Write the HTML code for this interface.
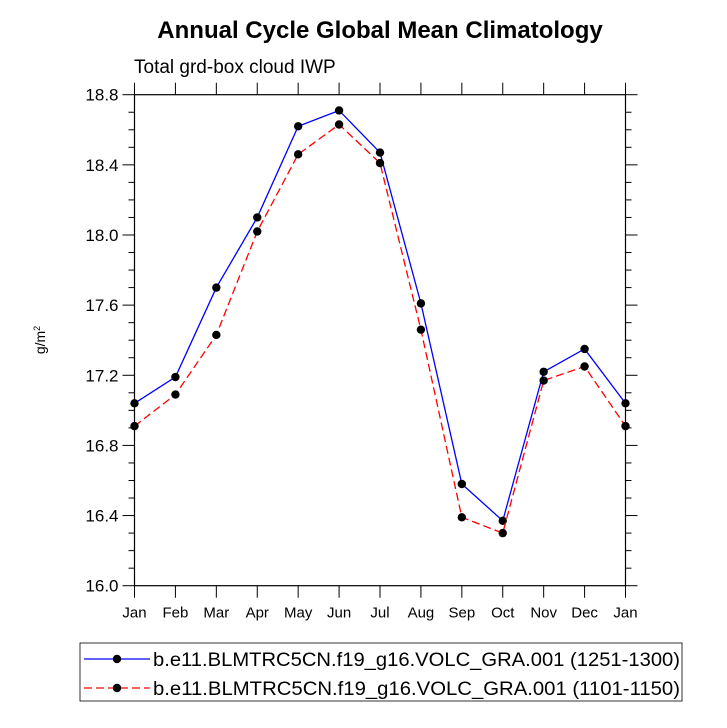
<!DOCTYPE html>
<html><head><meta charset="utf-8"><style>body{margin:0;background:#fff}svg{display:block;font-family:"Liberation Sans",sans-serif}</style></head>
<body>
<svg id="chart" width="727" height="728" xmlns="http://www.w3.org/2000/svg">
<text x="380" y="38" text-anchor="middle" font-size="24" font-weight="bold">Annual Cycle Global Mean Climatology</text>
<text x="134" y="73" font-size="19">Total grd-box cloud IWP</text>
<text transform="translate(45,340) rotate(-90)" text-anchor="middle" font-size="14">g/m<tspan font-size="9" dy="-5">2</tspan></text>
<g id="axes"></g>
<g id="series"></g>
<g>
<rect x="80" y="643" width="602" height="58" fill="none" stroke="#000" stroke-width="0.8"/>
<g>
<line x1="84" y1="659" x2="150" y2="659" stroke="#0000ff" stroke-width="1.3"/>
<circle cx="117" cy="659" r="4.2"/>
<text x="153" y="666" font-size="19.5" textLength="527" lengthAdjust="spacingAndGlyphs">b.e11.BLMTRC5CN.f19_g16.VOLC_GRA.001 (1251-1300)</text>
</g>
<g>
<line x1="84" y1="688" x2="150" y2="688" stroke="#ff0000" stroke-width="1.3" stroke-dasharray="8,4"/>
<circle cx="117" cy="688" r="4.2"/>
<text x="153" y="695" font-size="19.5" textLength="527" lengthAdjust="spacingAndGlyphs">b.e11.BLMTRC5CN.f19_g16.VOLC_GRA.001 (1101-1150)</text>
</g>
</g>
</svg>
<script>
const months=["Jan","Feb","Mar","Apr","May","Jun","Jul","Aug","Sep","Oct","Nov","Dec","Jan"];
const seriesA=[17.04,17.19,17.70,18.10,18.62,18.71,18.47,17.61,16.58,16.37,17.22,17.35,17.04];
const seriesB=[16.91,17.09,17.43,18.02,18.46,18.63,18.41,17.46,16.39,16.30,17.17,17.25,16.91];
const yTicks=[16.0,16.4,16.8,17.2,17.6,18.0,18.4,18.8];
const L=134.5,R=625.5,T=94.7,B=585.7,ymin=16.0,ymax=18.8;
const x=i=>L+(R-L)*i/12;
const y=v=>B-(B-T)*(v-ymin)/(ymax-ymin);
const NS="http://www.w3.org/2000/svg";
function mk(t,a,p){const e=document.createElementNS(NS,t);for(const k in a)e.setAttribute(k,a[k]);p.appendChild(e);return e;}
const ax=document.getElementById('axes');
const frame=mk('rect',{x:L,y:T,width:R-L,height:B-T,fill:'none',stroke:'#000','stroke-width':1.2},ax);


months.forEach((m,i)=>{
 mk('line',{x1:x(i),x2:x(i),y1:B,y2:B+12,stroke:'#000'},ax);
 mk('line',{x1:x(i),x2:x(i),y1:T,y2:T-12,stroke:'#000'},ax);
 const t=mk('text',{x:x(i),y:B+32,'text-anchor':'middle','font-size':15},ax);
 t.textContent=m;
 
 
});
yTicks.forEach((v,i)=>{
 mk('line',{x1:L-12,x2:L,y1:y(v),y2:y(v),stroke:'#000'},ax);
 mk('line',{x1:R,x2:R+12,y1:y(v),y2:y(v),stroke:'#000'},ax);
 const t=mk('text',{x:L-16,y:y(v)+6,'text-anchor':'end','font-size':17},ax);
 t.textContent=v.toFixed(1);
 
 
 if(i<yTicks.length-1){for(let k=1;k<4;k++){const vv=v+0.1*k;
  mk('line',{x1:L-6,x2:L,y1:y(vv),y2:y(vv),stroke:'#000'},ax);
  mk('line',{x1:R,x2:R+6,y1:y(vv),y2:y(vv),stroke:'#000'},ax);}}
});
const sg=document.getElementById('series');
function draw(data,color,dash,name){
 const g=mk('g',{},sg);
 
 
 mk('polyline',{points:data.map((v,i)=>x(i)+','+y(v)).join(' '),fill:'none',stroke:color,'stroke-width':1.3,'stroke-dasharray':dash},g);
 data.forEach((v,i)=>{const c=mk('circle',{cx:x(i),cy:y(v),r:4.2,fill:'#000'},g);
  
  });
}
draw(seriesA,'#0000ff','none','series-1251-1300');
draw(seriesB,'#ff0000','8,4','series-1101-1150');
</script>
</body></html>
